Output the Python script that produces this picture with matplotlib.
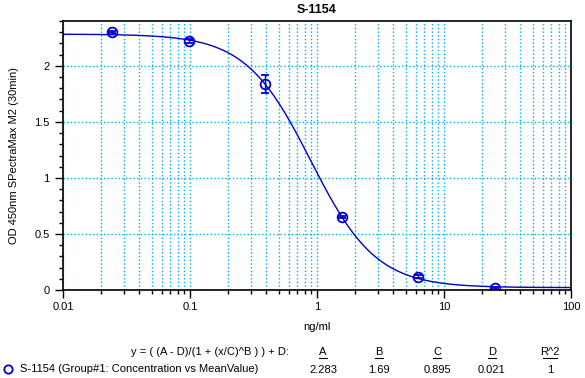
import numpy as np
import matplotlib.pyplot as plt
from matplotlib.ticker import LogLocator, MultipleLocator, FixedLocator

plt.rcParams['font.family'] = ['Liberation Sans', 'DejaVu Sans']

# standard points (4-fold dilutions)
conc = [0.0244, 0.0977, 0.39, 1.5625, 6.25, 25.0]
mean_od = [2.30, 2.22, 1.84, 0.65, 0.12, 0.02]
sd_od = [0.01, 0.02, 0.08, 0.01, 0.015, 0.01]

# 4PL fit parameters shown in the table
param_names = ["A", "B", "C", "D", "R^2"]
param_values = ["2.283", "1.69", "0.895", "0.021", "1"]
A, B, C, D = 2.283, 1.69, 0.895, 0.021

blue = "#0000CC"
cyan = "#00AEEF"

fig = plt.figure(figsize=(5.85, 3.78), dpi=100)
ax = fig.add_axes([63 / 585, 1 - 290 / 378, (571 - 63) / 585, (290 - 21) / 378])

xs = np.logspace(-2, 2, 400)
ax.plot(xs, (A - D) / (1 + (xs / C) ** B) + D, color=blue, lw=1)
ax.errorbar(conc, mean_od, yerr=sd_od, fmt="o", mfc="none", mec=blue, ecolor=blue,
            ms=7, mew=1.3, capsize=3, elinewidth=1)

ax.set_xscale("log")
ax.set_xlim(0.01, 100)
ax.set_ylim(0, 2.4)
ax.xaxis.set_major_locator(FixedLocator([0.01, 0.1, 1, 10, 100]))
ax.xaxis.set_minor_locator(LogLocator(base=10, subs=np.arange(2, 10), numticks=20))
ax.set_xticklabels(["0.01", "0.1", "1", "10", "100"])
ax.yaxis.set_major_locator(MultipleLocator(0.5))
ax.yaxis.set_minor_locator(MultipleLocator(0.1))
ax.yaxis.set_major_formatter(plt.FuncFormatter(lambda v, p: f"{v:g}"))

ax.grid(True, which="both", axis="x", color=cyan, ls=":", lw=1)
ax.grid(True, which="major", axis="y", color=cyan, ls=":", lw=1)
ax.set_axisbelow(True)

ax.tick_params(which="major", length=6, width=1, labelsize=8, direction="out")
ax.tick_params(which="minor", length=3, width=1, direction="out")
ax.tick_params(axis="x", pad=3)
for s in ax.spines.values():
    s.set_linewidth(1.2)

ax.set_title("S-1154", fontsize=9, fontweight="bold", pad=6)
ax.set_xlabel("ng/ml", fontsize=8, labelpad=7)
ax.set_ylabel("OD 450nm SPectraMax M2 (30min)", fontsize=8, labelpad=11)

# legend / fit table below the plot
fig.text(289 / 585, 1 - 352 / 378, "y = ( (A - D)/(1 + (x/C)^B ) ) + D:", fontsize=8,
         ha="right", va="center")
fig.text(20 / 585, 1 - 369 / 378, "S-1154 (Group#1: Concentration vs MeanValue)",
         fontsize=8, ha="left", va="center")
fig.lines.append(plt.Line2D([8 / 585], [1 - 369 / 378], marker="o", mfc="none",
                            mec=blue, mew=1.3, ms=6, transform=fig.transFigure))
col_x = [323, 379, 437, 492, 550]
for x, name, val in zip(col_x, param_names, param_values):
    fig.text(x / 585, 1 - 352 / 378, name, fontsize=8, ha="center", va="center")
    fig.text(x / 585, 1 - 370 / 378, val, fontsize=8, ha="center", va="center")
    w = 0.011 if len(name) == 1 else 0.02
    fig.lines.append(plt.Line2D([x / 585 - w / 2 - 0.002, x / 585 + w / 2 + 0.002],
                                [1 - 358 / 378] * 2, color="black", lw=0.8,
                                transform=fig.transFigure))

fig.savefig("out.png", dpi=100)
